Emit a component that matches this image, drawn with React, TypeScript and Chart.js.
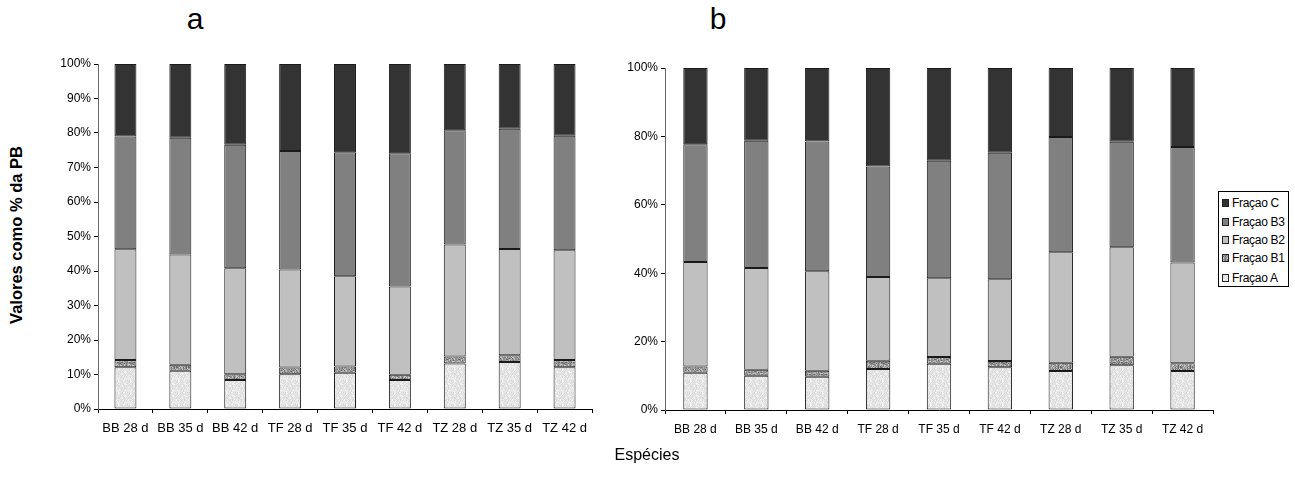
import React, { useEffect, useRef } from "react";
import { Chart, registerables } from "chart.js";

Chart.register(...registerables);

const categories = ["BB 28 d", "BB 35 d", "BB 42 d", "TF 28 d", "TF 35 d", "TF 42 d", "TZ 28 d", "TZ 35 d", "TZ 42 d"];
const seriesNames = ["Fraçao A", "Fraçao B1", "Fraçao B2", "Fraçao B3", "Fraçao C"];

// Panel a (percent of PB)
const aFracA = [12.1, 11.1, 8.4, 10.1, 10.5, 8.4, 13.2, 13.6, 12.1];
const aFracB1 = [2.1, 1.7, 1.7, 1.9, 1.8, 1.5, 2.0, 2.0, 2.1];
const aFracB2 = [32.1, 32.0, 30.7, 28.4, 26.2, 25.6, 32.5, 30.8, 31.8];
const aFracB3 = [32.7, 33.8, 35.8, 34.4, 35.9, 38.6, 33.1, 34.8, 33.2];
const aFracC = [21.0, 21.4, 23.4, 25.2, 25.6, 25.9, 19.2, 18.8, 20.8];

// Panel b (percent of PB)
const bFracA = [10.9, 10.0, 9.7, 12.0, 13.5, 12.5, 11.4, 13.1, 11.4];
const bFracB1 = [1.8, 1.8, 1.8, 2.4, 2.0, 1.8, 2.4, 2.5, 2.3];
const bFracB2 = [30.6, 29.7, 29.1, 24.5, 23.0, 23.9, 32.3, 32.0, 29.4];
const bFracB3 = [34.4, 37.2, 37.9, 32.3, 34.4, 37.0, 33.7, 30.8, 33.8];
const bFracC = [22.3, 21.3, 21.5, 28.8, 27.1, 24.8, 20.2, 21.6, 23.1];

const FONT = "'Liberation Sans', Arial, sans-serif";

function hash(x: number, y: number, s: number) {
  let h = Math.imul(x, 374761393) + Math.imul(y, 668265263) + Math.imul(s, 1442695041);
  h = Math.imul(h ^ (h >>> 13), 1274126177);
  h = h ^ (h >>> 16);
  return (h >>> 0) / 4294967295;
}

function makeTile(base: string, dots: string[], density: number, seed: number) {
  const c = document.createElement("canvas");
  c.width = 12;
  c.height = 12;
  const ctx = c.getContext("2d")!;
  ctx.fillStyle = base;
  ctx.fillRect(0, 0, 12, 12);
  for (let x = 0; x < 12; x++) {
    for (let y = 0; y < 12; y++) {
      const r = hash(x, y, seed);
      if (r < density) {
        const k = Math.floor(hash(y, x, seed + 7) * dots.length) % dots.length;
        ctx.fillStyle = dots[k];
        ctx.fillRect(x, y, 1, 1);
      }
    }
  }
  return c;
}

const tileSpecA = { base: "#e8e8e8", dots: ["#d9d9d9", "#f4f4f4", "#dedede"], density: 0.55, seed: 3 };
const tileSpecB1 = { base: "#8e8e8e", dots: ["#6a6a6a", "#c4c4c4", "#a8a8a8"], density: 0.6, seed: 11 };

function BarPanel(props: {
  left: number; top: number; width: number; height: number;
  yWidth: number; xHeight: number; padTop: number; padRight: number;
  step: number; xFont: number; series: number[][];
}) {
  const ref = useRef<HTMLCanvasElement | null>(null);
  useEffect(() => {
    const canvas = ref.current!;
    const tileA = makeTile(tileSpecA.base, tileSpecA.dots, tileSpecA.density, tileSpecA.seed);
    const tileB1 = makeTile(tileSpecB1.base, tileSpecB1.dots, tileSpecB1.density, tileSpecB1.seed);
    const ctx = canvas.getContext("2d")!;
    const patA = ctx.createPattern(tileA, "repeat");
    const patB1 = ctx.createPattern(tileB1, "repeat");
    const fills: any[] = [patA, patB1, "#c0c0c0", "#808080", "#333333"];
    const chart = new Chart(canvas, {
      type: "bar",
      data: {
        labels: categories,
        datasets: props.series.map((d, i) => ({
          label: seriesNames[i],
          data: d,
          backgroundColor: fills[i],
          borderColor: "#1a1a1a",
          borderWidth: 1,
          borderSkipped: false,
          barPercentage: 0.8,
          categoryPercentage: 0.5,
        })),
      },
      options: {
        responsive: false,
        animation: false,
        layout: { padding: { top: props.padTop, right: props.padRight, left: 0, bottom: 0 } },
        plugins: { legend: { display: false }, tooltip: { enabled: false } },
        scales: {
          x: {
            stacked: true,
            grid: { drawOnChartArea: false, drawTicks: true, tickLength: 4, color: "#000" },
            border: { display: true, color: "#000", width: 1 },
            ticks: { color: "#000", font: { family: FONT, size: props.xFont }, padding: 8, maxRotation: 0, autoSkip: false },
            afterFit: (s: any) => { s.height = props.xHeight; },
          },
          y: {
            stacked: true,
            min: 0,
            max: 100,
            grid: { drawOnChartArea: false, drawTicks: true, tickLength: 4, color: "#000" },
            border: { display: true, color: "#6a6a6a", width: 1 },
            ticks: {
              stepSize: props.step,
              color: "#000",
              font: { family: FONT, size: 12 },
              padding: 3,
              callback: (v: any) => v + "%",
            },
            afterFit: (s: any) => { s.width = props.yWidth; },
          },
        },
      },
    });
    return () => chart.destroy();
  }, []);
  return (
    <canvas
      ref={ref}
      width={props.width}
      height={props.height}
      style={{ position: "absolute", left: props.left, top: props.top, width: props.width, height: props.height }}
    />
  );
}

function Legend() {
  const ref = useRef<HTMLDivElement | null>(null);
  const swatchColors = ["#333333", "#808080", "#c0c0c0", "B1", "A"];
  const names = [seriesNames[4], seriesNames[3], seriesNames[2], seriesNames[1], seriesNames[0]];
  useEffect(() => {
    const el = ref.current!;
    const tA = makeTile(tileSpecA.base, tileSpecA.dots, tileSpecA.density, tileSpecA.seed).toDataURL();
    const tB1 = makeTile(tileSpecB1.base, tileSpecB1.dots, tileSpecB1.density, tileSpecB1.seed).toDataURL();
    const sw = el.querySelectorAll("[data-sw]");
    sw.forEach((n: any) => {
      const k = n.getAttribute("data-sw");
      if (k === "A") n.style.backgroundImage = `url(${tA})`;
      if (k === "B1") n.style.backgroundImage = `url(${tB1})`;
    });
  }, []);
  const centers = [202, 221, 239, 257, 277];
  return (
    <div ref={ref} style={{ position: "absolute", left: 1218, top: 191, width: 71, height: 96, border: "1px solid #000", boxSizing: "border-box", background: "#fff" }}>
      {names.map((n, i) => (
        <div key={n} style={{ position: "absolute", left: 0, top: centers[i] - 191 - 9, height: 18, width: 70 }}>
          <div
            data-sw={swatchColors[i].startsWith("#") ? "" : swatchColors[i]}
            style={{
              position: "absolute", left: 3, top: 5, width: 7, height: 8, boxSizing: "border-box",
              border: "1px solid #222",
              background: swatchColors[i].startsWith("#") ? swatchColors[i] : "#bbb",
            }}
          />
          <div style={{ position: "absolute", left: 13, top: 0, lineHeight: "18px", fontSize: 12, fontFamily: FONT, color: "#000", whiteSpace: "nowrap", letterSpacing: "-0.3px" }}>
            {n}
          </div>
        </div>
      ))}
    </div>
  );
}

export default function App() {
  const seriesA = [aFracA, aFracB1, aFracB2, aFracB3, aFracC];
  const seriesB = [bFracA, bFracB1, bFracB2, bFracB3, bFracC];
  return (
    <div style={{ position: "absolute", left: 0, top: 0, width: 1295, height: 496, background: "#fff", overflow: "hidden" }}>
      <div style={{ position: "absolute", left: 195, top: 4, transform: "translateX(-50%)", fontFamily: FONT, fontSize: 30, lineHeight: "30px" }}>a</div>
      <div style={{ position: "absolute", left: 718, top: 4, transform: "translateX(-50%)", fontFamily: FONT, fontSize: 30, lineHeight: "30px" }}>b</div>
      <BarPanel left={40} top={50} width={570} height={410} yWidth={58} xHeight={51} padTop={14} padRight={18} step={10} xFont={13} series={seriesA} />
      <BarPanel left={600} top={50} width={640} height={410} yWidth={65} xHeight={50} padTop={18} padRight={27} step={20} xFont={12} series={seriesB} />
      <Legend />
      <div style={{ position: "absolute", left: 16, top: 235, transform: "translate(-50%, -50%) rotate(-90deg)", fontFamily: FONT, fontWeight: "bold", fontSize: 16.5, whiteSpace: "nowrap" }}>
        Valores como % da PB
      </div>
      <div style={{ position: "absolute", left: 647, top: 455, transform: "translate(-50%, -50%)", fontFamily: FONT, fontSize: 16, whiteSpace: "nowrap" }}>
        Espécies
      </div>
    </div>
  );
}
